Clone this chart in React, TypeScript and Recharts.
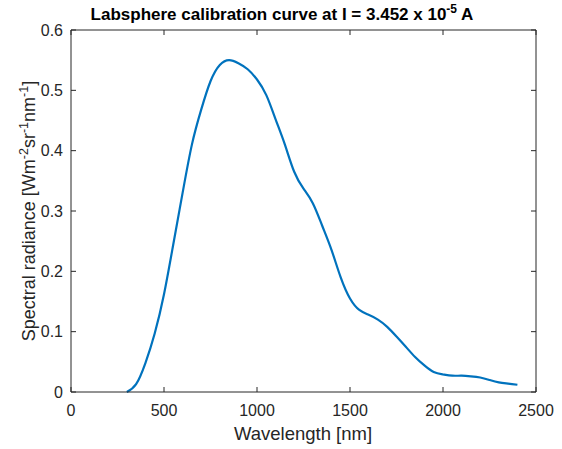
import React from "react"
import { LineChart, Line, XAxis, YAxis } from "recharts"

// wavelength samples [nm]
const wavelengths = [
    300, 350, 400, 450, 500, 550, 600, 650, 700, 750, 800, 850, 900, 950, 1000,
    1050, 1100, 1150, 1200, 1250, 1300, 1350, 1400, 1450, 1500, 1550, 1600, 1650,
    1700, 1750, 1800, 1850, 1900, 1950, 2000, 2050, 2100, 2150, 2200, 2250, 2300,
    2350, 2400,
]

// spectral radiance [W m^-2 sr^-1 nm^-1]
const radiance = [
    0.0, 0.013, 0.048, 0.097, 0.162, 0.245, 0.33, 0.41, 0.468, 0.515, 0.542, 0.55,
    0.545, 0.535, 0.518, 0.492, 0.452, 0.41, 0.365, 0.337, 0.313, 0.276, 0.236,
    0.19, 0.155, 0.136, 0.128, 0.12, 0.108, 0.092, 0.075, 0.058, 0.044, 0.033,
    0.029, 0.027, 0.027, 0.026, 0.024, 0.02, 0.016, 0.014, 0.012,
]

const xTicks = [0, 500, 1000, 1500, 2000, 2500]
const yTicks = [0, 0.1, 0.2, 0.3, 0.4, 0.5, 0.6]

const data = wavelengths.map((w, i) => ({ w, r: radiance[i] }))

const FONT = "'Liberation Sans', Arial, Helvetica, sans-serif"
const AXIS = "#262626"

export default function App() {
    return (
        <div style={{ position: "absolute", left: 0, top: 0, width: 562, height: 449, background: "#fff" }}>
            <LineChart
                width={562}
                height={449}
                data={data}
                margin={{ top: 29, right: 25, left: 0, bottom: 0 }}
                style={{ fontFamily: FONT }}
            >
                <XAxis
                    dataKey="w"
                    type="number"
                    domain={[0, 2500]}
                    ticks={xTicks}
                    height={57}
                    stroke={AXIS}
                    tickSize={-5}
                    tickMargin={18}
                    tick={{ fill: AXIS, fontSize: 16 }}
                />
                <XAxis
                    xAxisId="top"
                    dataKey="w"
                    type="number"
                    orientation="top"
                    domain={[0, 2500]}
                    ticks={xTicks}
                    height={1}
                    stroke={AXIS}
                    tickSize={-5}
                    tickFormatter={() => ""}
                />
                <YAxis
                    type="number"
                    domain={[0, 0.6]}
                    ticks={yTicks}
                    width={71}
                    stroke={AXIS}
                    tickSize={-5}
                    tickMargin={13}
                    tick={{ fill: AXIS, fontSize: 16 }}
                />
                <YAxis
                    yAxisId="right"
                    type="number"
                    orientation="right"
                    domain={[0, 0.6]}
                    ticks={yTicks}
                    width={1}
                    stroke={AXIS}
                    tickSize={-5}
                    tickFormatter={() => ""}
                />
                <Line
                    dataKey="r"
                    type="natural"
                    stroke="#0072BD"
                    strokeWidth={2.2}
                    dot={false}
                    isAnimationActive={false}
                />
                <Line
                    xAxisId="top"
                    yAxisId="right"
                    dataKey="r"
                    stroke="none"
                    strokeWidth={0}
                    dot={false}
                    activeDot={false}
                    legendType="none"
                    isAnimationActive={false}
                />
                <text x={282} y={20} textAnchor="middle" fontSize={17} fontWeight="bold" fill="#000">
                    Labsphere calibration curve at I = 3.452 x 10
                    <tspan dy={-7} fontSize={12}>-5</tspan>
                    <tspan dy={7}> A</tspan>
                </text>
                <text x={303} y={440} textAnchor="middle" fontSize={18.5} fill={AXIS}>
                    Wavelength [nm]
                </text>
                <text
                    x={0}
                    y={0}
                    transform="translate(35,211) rotate(-90)"
                    textAnchor="middle"
                    fontSize={18}
                    fill={AXIS}
                >
                    Spectral radiance [Wm
                    <tspan dy={-7} fontSize={12.5}>-2</tspan>
                    <tspan dy={7}>sr</tspan>
                    <tspan dy={-7} fontSize={12.5}>-1</tspan>
                    <tspan dy={7}>nm</tspan>
                    <tspan dy={-7} fontSize={12.5}>-1</tspan>
                    <tspan dy={7}>]</tspan>
                </text>
            </LineChart>
        </div>
    )
}
